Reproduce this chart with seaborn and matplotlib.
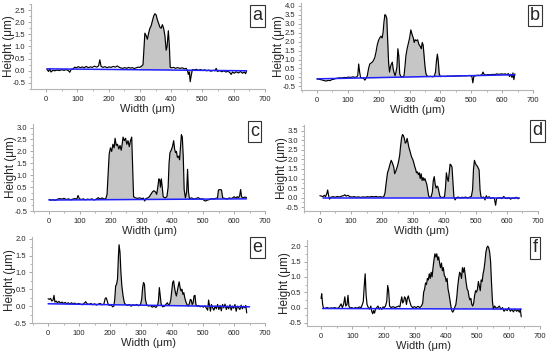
import numpy as np
import seaborn as sns
import matplotlib.pyplot as plt
from matplotlib.ticker import AutoMinorLocator, MultipleLocator, FormatStrFormatter

# surface profiles (width um, height um)
a_profile = [(3,0.06),(8,-0.03),(12,0.08),(16,-0.05),(22,0.02),(28,0.0),(35,0.03),(42,0.01),(50,0.04),(58,0.02),(65,0.05),(72,0.0),(76,-0.06),(80,0.05),(86,0.08),(92,0.15),(97,0.12),(103,0.17),(110,0.13),(116,0.16),(122,0.12),(128,0.18),(135,0.13),(142,0.16),(148,0.14),(155,0.19),(162,0.15),(168,0.2),(172,0.45),(176,0.18),(182,0.14),(188,0.17),(195,0.13),(202,0.16),(208,0.14),(215,0.18),(222,0.15),(228,0.2),(232,0.16),(238,0.12),(245,0.1),(252,0.13),(258,0.1),(264,0.14),(270,0.11),(276,0.13),(282,0.09),(288,0.12),(294,0.15),(300,0.14),(306,0.2),(310,0.25),(313,0.9),(316,1.55),(320,1.45),(324,1.3),(328,1.55),(332,1.75),(336,1.85),(340,2.05),(344,2.25),(348,2.35),(352,2.3),(356,2.1),(360,1.95),(364,1.8),(368,1.75),(372,1.9),(376,1.75),(380,1.45),(384,0.85),(387,1.0),(391,1.65),(394,1.1),(397,0.15),(402,0.12),(408,0.14),(414,0.1),(420,0.13),(428,0.1),(436,0.12),(442,0.08),(448,0.1),(452,0.02),(455,-0.15),(458,-0.05),(461,-0.45),(464,-0.2),(468,0.05),(474,0.03),(480,0.06),(487,0.02),(494,0.05),(500,0.01),(507,0.04),(514,0.0),(520,0.03),(527,-0.02),(534,0.02),(540,0.0),(544,0.1),(548,-0.03),(555,0.01),(562,-0.04),(568,0.0),(575,-0.05),(582,-0.02),(588,-0.08),(592,-0.15),(596,-0.05),(602,-0.1),(608,-0.04),(615,-0.09),(622,-0.03),(628,-0.1),(634,-0.05),(638,-0.12),(641,-0.02)]
b_profile = [(0,-0.08),(6,-0.1),(12,-0.12),(18,-0.15),(24,-0.18),(30,-0.2),(36,-0.16),(42,-0.18),(48,-0.12),(54,-0.1),(60,-0.06),(67,-0.04),(74,-0.02),(81,-0.03),(88,0.0),(95,-0.01),(102,0.02),(109,0.0),(116,0.03),(122,0.01),(128,0.02),(132,0.1),(135,0.75),(138,0.3),(141,0.0),(146,-0.03),(151,-0.05),(155,-0.15),(159,-0.05),(163,0.1),(167,0.5),(171,0.75),(175,0.8),(179,0.85),(183,0.95),(187,1.1),(191,1.4),(195,1.8),(199,2.05),(203,2.2),(207,2.3),(211,2.2),(214,2.5),(217,3.1),(220,3.5),(223,3.45),(226,3.3),(229,2.0),(232,0.8),(235,0.3),(238,0.6),(241,0.75),(244,0.85),(247,0.45),(250,0.25),(253,0.1),(256,0.3),(259,0.6),(262,1.6),(265,1.2),(268,0.2),(272,0.05),(277,0.03),(282,0.1),(285,0.6),(288,1.2),(292,1.6),(296,1.9),(300,2.2),(304,2.65),(308,2.4),(312,2.2),(315,1.95),(318,2.1),(322,2.05),(326,2.1),(330,1.85),(334,1.75),(338,1.6),(341,1.95),(344,1.8),(347,1.2),(350,0.6),(353,0.2),(357,0.08),(362,0.05),(368,0.06),(374,0.04),(380,0.06),(384,0.3),(387,0.9),(390,1.3),(393,0.9),(396,0.2),(400,0.05),(408,0.06),(416,0.05),(424,0.07),(432,0.06),(440,0.08),(448,0.07),(456,0.09),(464,0.08),(472,0.1),(480,0.09),(488,0.1),(496,0.11),(502,0.05),(505,-0.3),(508,0.05),(514,0.1),(520,0.12),(527,0.11),(534,0.14),(538,0.3),(542,0.15),(548,0.14),(555,0.16),(562,0.15),(569,0.17),(576,0.16),(583,0.2),(590,0.17),(597,0.2),(604,0.18),(610,0.2),(616,0.15),(620,0.22),(624,0.05),(628,0.18),(632,0.0),(635,0.25),(638,-0.12),(641,0.2)]
c_profile = [(0,-0.02),(7,-0.04),(14,-0.03),(21,-0.05),(28,0.0),(35,0.02),(42,0.0),(49,0.03),(56,-0.02),(63,0.01),(70,-0.03),(77,0.0),(84,0.02),(90,0.0),(94,0.15),(98,0.02),(104,-0.02),(111,0.01),(118,-0.03),(125,0.0),(132,-0.02),(139,0.01),(146,-0.04),(153,0.0),(160,0.06),(165,0.0),(172,0.05),(178,0.0),(184,0.02),(188,0.2),(192,1.2),(195,1.9),(199,2.15),(203,2.0),(207,2.3),(211,2.15),(214,2.55),(218,2.25),(222,2.3),(226,2.1),(230,2.25),(234,2.05),(237,2.3),(240,2.6),(244,2.45),(248,2.55),(252,2.3),(256,2.45),(260,2.2),(264,2.45),(268,2.6),(271,1.3),(274,0.1),(280,0.05),(287,0.03),(294,0.05),(300,0.02),(306,0.04),(310,-0.08),(314,0.02),(320,0.05),(325,0.1),(330,0.2),(335,0.3),(340,0.35),(345,0.3),(349,0.2),(353,0.55),(356,0.85),(359,0.8),(361,0.5),(364,0.85),(367,0.5),(370,0.1),(376,0.05),(382,0.1),(386,0.5),(389,1.5),(392,1.95),(396,2.05),(400,2.2),(404,2.45),(407,2.1),(410,1.95),(413,2.0),(416,1.75),(420,1.8),(423,1.65),(426,2.2),(429,2.7),(432,2.6),(435,1.8),(438,0.4),(442,0.05),(446,0.3),(449,1.25),(452,0.3),(455,0.02),(462,0.05),(470,0.0),(477,0.03),(484,0.06),(490,0.0),(497,0.02),(503,-0.06),(508,-0.08),(514,-0.04),(520,-0.02),(527,0.02),(534,0.0),(540,0.03),(546,0.05),(549,0.38),(554,0.4),(559,0.38),(563,0.05),(570,0.03),(577,0.0),(584,0.05),(590,0.02),(596,0.06),(600,0.1),(605,0.04),(610,0.1),(614,0.05),(618,0.15),(621,0.4),(624,0.1),(628,0.05),(633,0.08),(640,0.07)]
d_profile = [(0,0.1),(5,0.08),(10,0.05),(14,0.12),(18,0.05),(22,0.2),(25,0.4),(28,0.1),(31,-0.08),(35,0.02),(42,0.05),(49,0.02),(56,0.06),(63,0.03),(70,0.08),(76,0.1),(80,0.15),(84,0.08),(90,0.12),(96,0.05),(103,0.03),(110,0.05),(117,0.02),(124,0.04),(131,0.01),(138,0.04),(145,0.02),(152,0.05),(159,0.03),(166,0.06),(173,0.04),(180,0.06),(187,0.03),(194,0.05),(200,0.02),(205,0.05),(209,0.25),(213,0.8),(217,1.3),(221,1.5),(225,1.75),(229,1.95),(233,1.8),(237,1.6),(240,1.25),(244,1.4),(248,1.6),(252,1.85),(256,2.2),(259,2.7),(262,3.1),(265,3.3),(268,3.25),(271,3.1),(274,2.85),(277,2.9),(280,3.1),(283,2.85),(286,2.6),(289,2.45),(292,2.25),(295,2.1),(298,2.0),(301,1.85),(304,1.65),(307,1.5),(310,1.3),(313,1.35),(316,1.2),(319,1.3),(322,1.0),(325,1.25),(328,0.9),(331,1.05),(334,0.9),(337,1.0),(340,0.85),(343,0.7),(346,0.4),(349,0.1),(353,0.0),(357,0.05),(361,0.3),(364,0.9),(367,1.1),(370,0.7),(373,0.5),(376,0.6),(379,0.55),(382,0.3),(385,0.08),(390,0.0),(396,0.02),(400,0.05),(403,0.5),(406,1.3),(409,1.0),(412,0.85),(415,1.3),(418,1.75),(421,1.7),(424,1.6),(427,0.8),(430,0.05),(434,-0.12),(438,0.0),(444,0.03),(450,-0.02),(456,0.02),(462,0.0),(468,0.03),(474,-0.02),(480,0.02),(486,0.06),(490,0.4),(493,1.5),(496,1.95),(499,1.8),(502,1.7),(505,1.65),(508,1.55),(511,1.45),(514,0.4),(517,0.05),(521,0.0),(526,0.03),(530,-0.12),(534,0.1),(538,-0.02),(543,0.05),(548,-0.05),(554,0.0),(560,-0.05),(564,-0.4),(567,-0.05),(572,-0.02),(578,0.0),(584,-0.05),(590,0.06),(595,-0.02),(600,-0.05),(606,0.0),(612,-0.08),(618,-0.02),(624,-0.05),(630,0.02),(636,-0.06),(640,-0.02)]
e_profile = [(0,0.22),(4,0.2),(8,0.23),(12,0.15),(16,0.18),(19,0.32),(22,0.12),(26,0.15),(30,0.1),(35,0.14),(40,0.09),(45,0.12),(50,0.08),(55,0.11),(60,0.07),(65,0.1),(70,0.06),(75,0.1),(80,0.07),(86,0.09),(92,0.05),(98,0.08),(104,0.06),(110,0.04),(116,0.08),(121,0.13),(126,0.07),(132,0.05),(138,0.08),(144,0.04),(150,0.07),(156,0.03),(162,0.06),(168,0.08),(174,0.04),(180,0.06),(184,0.22),(187,0.25),(190,0.18),(194,0.05),(198,0.02),(203,0.05),(208,-0.02),(212,0.0),(215,0.2),(218,0.6),(221,0.65),(224,0.8),(227,1.5),(229,1.82),(232,1.6),(235,1.0),(238,0.6),(242,0.3),(246,0.1),(250,0.05),(256,0.02),(262,0.05),(268,0.0),(274,0.04),(280,0.02),(286,0.05),(292,0.01),(298,0.04),(302,0.2),(305,0.55),(308,0.7),(311,0.65),(314,0.2),(318,0.04),(324,0.0),(330,0.02),(336,-0.03),(342,0.0),(348,-0.04),(353,0.02),(356,0.15),(359,0.55),(362,0.3),(365,0.05),(370,-0.02),(376,0.0),(381,0.06),(385,0.1),(389,0.02),(393,0.08),(396,0.2),(399,0.45),(402,0.7),(405,0.75),(408,0.55),(411,0.4),(414,0.3),(417,0.45),(420,0.6),(423,0.72),(426,0.55),(429,0.45),(432,0.5),(435,0.35),(438,0.4),(441,0.25),(444,0.15),(448,0.05),(452,0.0),(456,0.08),(459,0.2),(462,0.18),(465,0.05),(468,0.1),(471,0.3),(474,0.32),(477,0.05),(481,0.0),(486,0.02),(491,-0.02),(496,0.0),(501,-0.03),(506,0.01),(511,-0.06),(515,-0.12),(518,0.18),(521,0.0),(524,-0.15),(527,0.05),(531,-0.05),(535,-0.12),(539,0.0),(543,-0.08),(547,0.05),(551,-0.1),(555,0.02),(559,-0.14),(563,0.05),(567,-0.05),(571,0.06),(575,-0.1),(579,0.0),(583,-0.08),(587,0.04),(591,-0.12),(595,0.0),(599,-0.06),(603,0.05),(607,-0.15),(611,0.0),(615,-0.05),(619,-0.1),(623,0.03),(627,-0.08),(631,0.0),(635,-0.05),(638,0.02),(641,-0.2)]
f_profile = [(0,0.3),(2,0.45),(5,0.1),(8,-0.03),(14,-0.02),(20,0.0),(26,-0.03),(32,-0.01),(38,-0.02),(44,0.0),(50,-0.03),(56,-0.01),(60,0.05),(64,0.12),(68,0.0),(72,0.1),(76,0.35),(79,0.05),(83,0.1),(86,0.4),(89,0.05),(93,-0.02),(98,0.0),(104,-0.03),(110,0.0),(116,-0.02),(122,0.02),(128,0.0),(132,0.1),(135,0.2),(138,0.7),(141,1.1),(144,0.4),(147,0.1),(151,0.0),(155,-0.05),(159,0.05),(162,-0.12),(165,-0.2),(168,-0.1),(171,-0.18),(174,-0.05),(178,0.0),(182,0.05),(186,-0.05),(190,0.0),(194,-0.06),(198,0.02),(202,0.0),(206,0.05),(210,0.2),(213,0.72),(216,0.55),(219,0.05),(224,0.0),(230,0.03),(236,0.0),(242,0.02),(248,0.05),(252,0.02),(255,0.2),(258,0.35),(261,0.15),(264,0.2),(267,0.35),(270,0.3),(273,0.1),(276,0.3),(279,0.38),(282,0.25),(285,0.15),(288,0.05),(293,0.0),(298,0.03),(304,0.0),(310,0.04),(316,0.0),(321,0.05),(325,0.15),(328,0.5),(331,0.6),(334,0.8),(337,0.75),(340,0.95),(343,0.9),(346,1.1),(349,0.95),(352,1.15),(355,1.0),(358,1.3),(361,1.55),(364,1.75),(367,1.65),(370,1.75),(373,1.55),(376,1.65),(379,1.45),(382,1.3),(385,1.45),(388,1.2),(391,1.3),(394,1.05),(397,1.0),(400,0.85),(403,0.95),(406,0.6),(409,0.45),(412,0.25),(415,0.05),(418,-0.1),(421,-0.15),(424,-0.1),(427,0.0),(431,0.1),(434,0.35),(437,0.7),(440,0.95),(443,1.15),(446,1.1),(449,0.95),(452,1.3),(455,1.15),(458,1.3),(461,1.05),(464,0.8),(467,0.6),(470,0.55),(473,0.35),(476,0.25),(479,0.3),(482,0.1),(485,0.05),(488,0.15),(491,0.4),(494,0.55),(497,0.5),(500,0.6),(503,0.85),(506,0.7),(509,0.55),(512,0.9),(515,0.85),(518,1.1),(521,1.25),(524,1.5),(527,1.8),(530,1.95),(533,2.0),(536,1.95),(539,1.8),(542,1.5),(545,0.8),(548,0.2),(551,-0.05),(555,0.05),(560,-0.02),(565,0.0),(570,0.05),(575,-0.06),(580,0.0),(585,-0.12),(590,-0.05),(595,-0.1),(600,0.0),(605,-0.12),(610,-0.06),(615,-0.14),(620,-0.05),(625,-0.12),(630,-0.08),(634,-0.15),(637,-0.05),(640,-0.3)]

# blue reference baselines: (x_start, x_end), (y_start, y_end)
a_base = ([3, 641], [0.08, 0.0])
b_base = ([0, 641], [-0.08, 0.15])
c_base = ([0, 640], [-0.04, 0.01])
d_base = ([10, 640], [-0.01, -0.01])
e_base = ([0, 650], [0.07, -0.02])
f_base = ([5, 640], [-0.03, -0.05])

# shaded grain regions
a_grains = [(306, 398), (450, 470)]
b_grains = [(163, 400)]
c_grains = [(186, 275), (322, 455), (546, 564), (617, 625)]
d_grains = [(205, 352), (358, 388), (400, 432), (488, 518)]
e_grains = [(213, 250), (300, 318), (354, 366), (394, 480)]
f_grains = [(322, 418), (427, 551)]

labels = ["a", "b", "c", "d", "e", "f"]

sns.set_style("ticks")
plt.rcParams['font.family'] = ['Liberation Sans', 'DejaVu Sans']
plt.rcParams['axes.unicode_minus'] = False

W, H = 550, 355
fig = plt.figure(figsize=(5.5, 3.55), dpi=100)


def px_axes(l, t, r, b):
    return [l / W, 1 - b / H, (r - l) / W, (b - t) / H]


panels = [
    (a_profile, a_base, a_grains, (31, 4, 265, 89), (-48, 700), (-0.75, 2.75), (257.5, 16)),
    (b_profile, b_base, b_grains, (301, 3, 533, 90), (-52, 700), (-0.7, 4.15), (535, 15.5)),
    (c_profile, c_base, c_grains, (33, 124, 265, 211), (-52, 700), (-0.5, 3.15), (254.5, 131.5)),
    (d_profile, d_base, d_grains, (304, 125, 538, 211), (-51, 700), (-0.7, 3.8), (537.5, 131)),
    (e_profile, e_base, e_grains, (32, 237, 265, 323), (-52, 700), (-0.5, 2.05), (257.5, 247.5)),
    (f_profile, f_base, f_grains, (307, 240, 540, 326), (-45, 700), (-0.6, 2.2), (535, 248)),
]

for lab, (prof, base, grains, box, xl, yl, lpos) in zip(labels, panels):
    ax = fig.add_axes(px_axes(*box))
    x = np.array([p[0] for p in prof], float)
    y = np.array([p[1] for p in prof], float)
    bl = np.interp(x, base[0], base[1])
    mask = np.zeros_like(x, dtype=bool)
    for g0, g1 in grains:
        mask |= (x >= g0) & (x <= g1)
    ax.fill_between(x, y, bl, where=mask, interpolate=True, color="#c6c6c6", lw=0, zorder=1)
    sns.lineplot(x=x, y=y, ax=ax, color="black", lw=0.85, errorbar=None, zorder=2)
    sns.lineplot(x=base[0], y=base[1], ax=ax, color="#1f1fff", lw=1.1, errorbar=None, zorder=3)

    ax.set_xlim(*xl)
    ax.set_ylim(*yl)
    ax.xaxis.set_major_locator(MultipleLocator(100))
    ax.yaxis.set_major_locator(MultipleLocator(0.5))
    ax.yaxis.set_major_formatter(FormatStrFormatter('%.1f'))
    ax.xaxis.set_minor_locator(AutoMinorLocator(2))
    ax.yaxis.set_minor_locator(AutoMinorLocator(2))
    sns.despine(ax=ax)
    for s in ("left", "bottom"):
        ax.spines[s].set_color("#b5b5b5")
        ax.spines[s].set_linewidth(0.8)
    ax.tick_params(which="major", length=2.5, width=0.6, color="#9a9a9a", labelsize=5.5, pad=1.5)
    ax.tick_params(which="minor", length=1.3, width=0.5, color="#9a9a9a")
    ax.tick_params(axis="x", which="major", pad=2.5)
    ax.set_xlabel("Width (μm)", fontsize=8, labelpad=1)
    ax.set_ylabel("Height (μm)", fontsize=8.5)
    # right edge of the rotated label sits ~16 px left of the spine
    ax.yaxis.set_label_coords(-16 / (box[2] - box[0]), 0.5)

    fig.text(lpos[0] / W, 1 - lpos[1] / H, lab, ha="center", va="center", fontsize=13,
             bbox=dict(boxstyle="square,pad=0.12", fc="white", ec="#333333", lw=0.8))

fig.savefig("out.png", dpi=100)
